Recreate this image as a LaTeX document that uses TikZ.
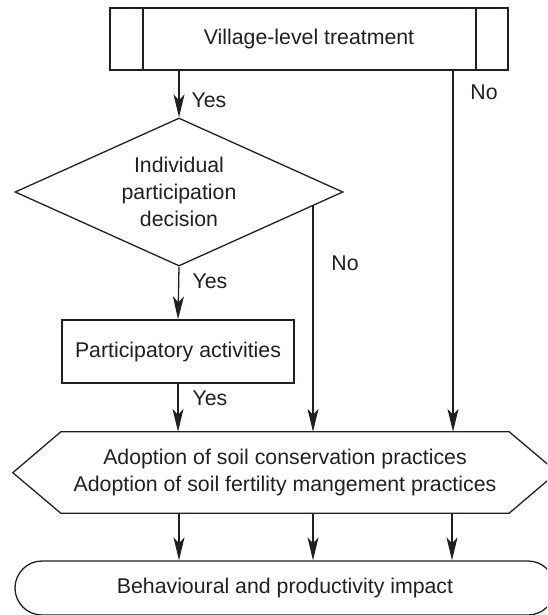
\documentclass[tikz,border=0pt]{standalone}
\usepackage{fontspec}
\setmainfont{Liberation Sans}
\usetikzlibrary{shapes.geometric,arrows.meta}
\definecolor{ink}{RGB}{35,31,32}
\begin{document}
\begin{tikzpicture}[x=1pt,y=-1pt,
  every node/.style={text=ink,font=\fontsize{21.3}{27}\selectfont},
  box/.style={draw=ink,line width=1.3pt,inner sep=0pt,align=center},
  arr/.style={draw=ink,line width=1.3pt,-{Stealth[length=23pt,width=11pt,inset=6pt]}},
  ln/.style={draw=ink,line width=1.3pt},
  lbl/.style={inner sep=0pt}]
\useasboundingbox (0,0) rectangle (547,615);
\clip (0,0) rectangle (547,615);
% top box
\node[box,minimum width=398pt,minimum height=62pt] (vil) at (309,39) {Village-level treatment};
\draw[ln] (143,0 |- vil.north) -- (143,0 |- vil.south);
\draw[ln] (476,0 |- vil.north) -- (476,0 |- vil.south);
% decision
\node[box,diamond,aspect=2.2,minimum width=328pt,minimum height=148pt] (dec) at (179,192) {Individual\\participation\\decision};
% participatory
\node[box,minimum width=232pt,minimum height=63pt] (part) at (178,351.5) {Participatory activities};
% hexagon
\node[inner sep=0pt,minimum width=448pt,minimum height=81pt,align=center] (hex) at (285,472.5) {Adoption of soil conservation practices\\Adoption of soil fertility mangement practices};
\draw[ln,line join=miter] (hex.north west) -- (hex.north east) -- ++(48,40.5) -- (hex.south east) -- (hex.south west) -- ++(-48,-40.5) -- cycle;
% outcome
\node[box,rounded corners=27pt,minimum width=540pt,minimum height=54pt] (out) at (285,588) {Behavioural and productivity impact};
% connectors
\draw[arr] (vil.south -| dec.north) -- (dec.north);
\draw[arr] (dec.south) -- (part.north);
\draw[arr] (part.south) -- (part.south |- hex.north);
\coordinate (decNo) at (313,205.5);
\draw[arr] (decNo) -- (decNo |- hex.north);
\draw[arr] (vil.south -| 453,0) -- (453,0 |- hex.north);
\foreach \xx in {179,313,452} {
  \draw[arr] (hex.south -| \xx,0) -- (out.north -| \xx,0);
}
% labels
\node[lbl] (y1) at (209,100) {Yes};
\node[lbl] (y2) at (210,281) {Yes};
\node[lbl] (y3) at (210,398) {Yes};
\node[lbl] (n1) at (484,92) {No};
\node[lbl] (n2) at (345,263) {No};
\end{tikzpicture}
\end{document}
